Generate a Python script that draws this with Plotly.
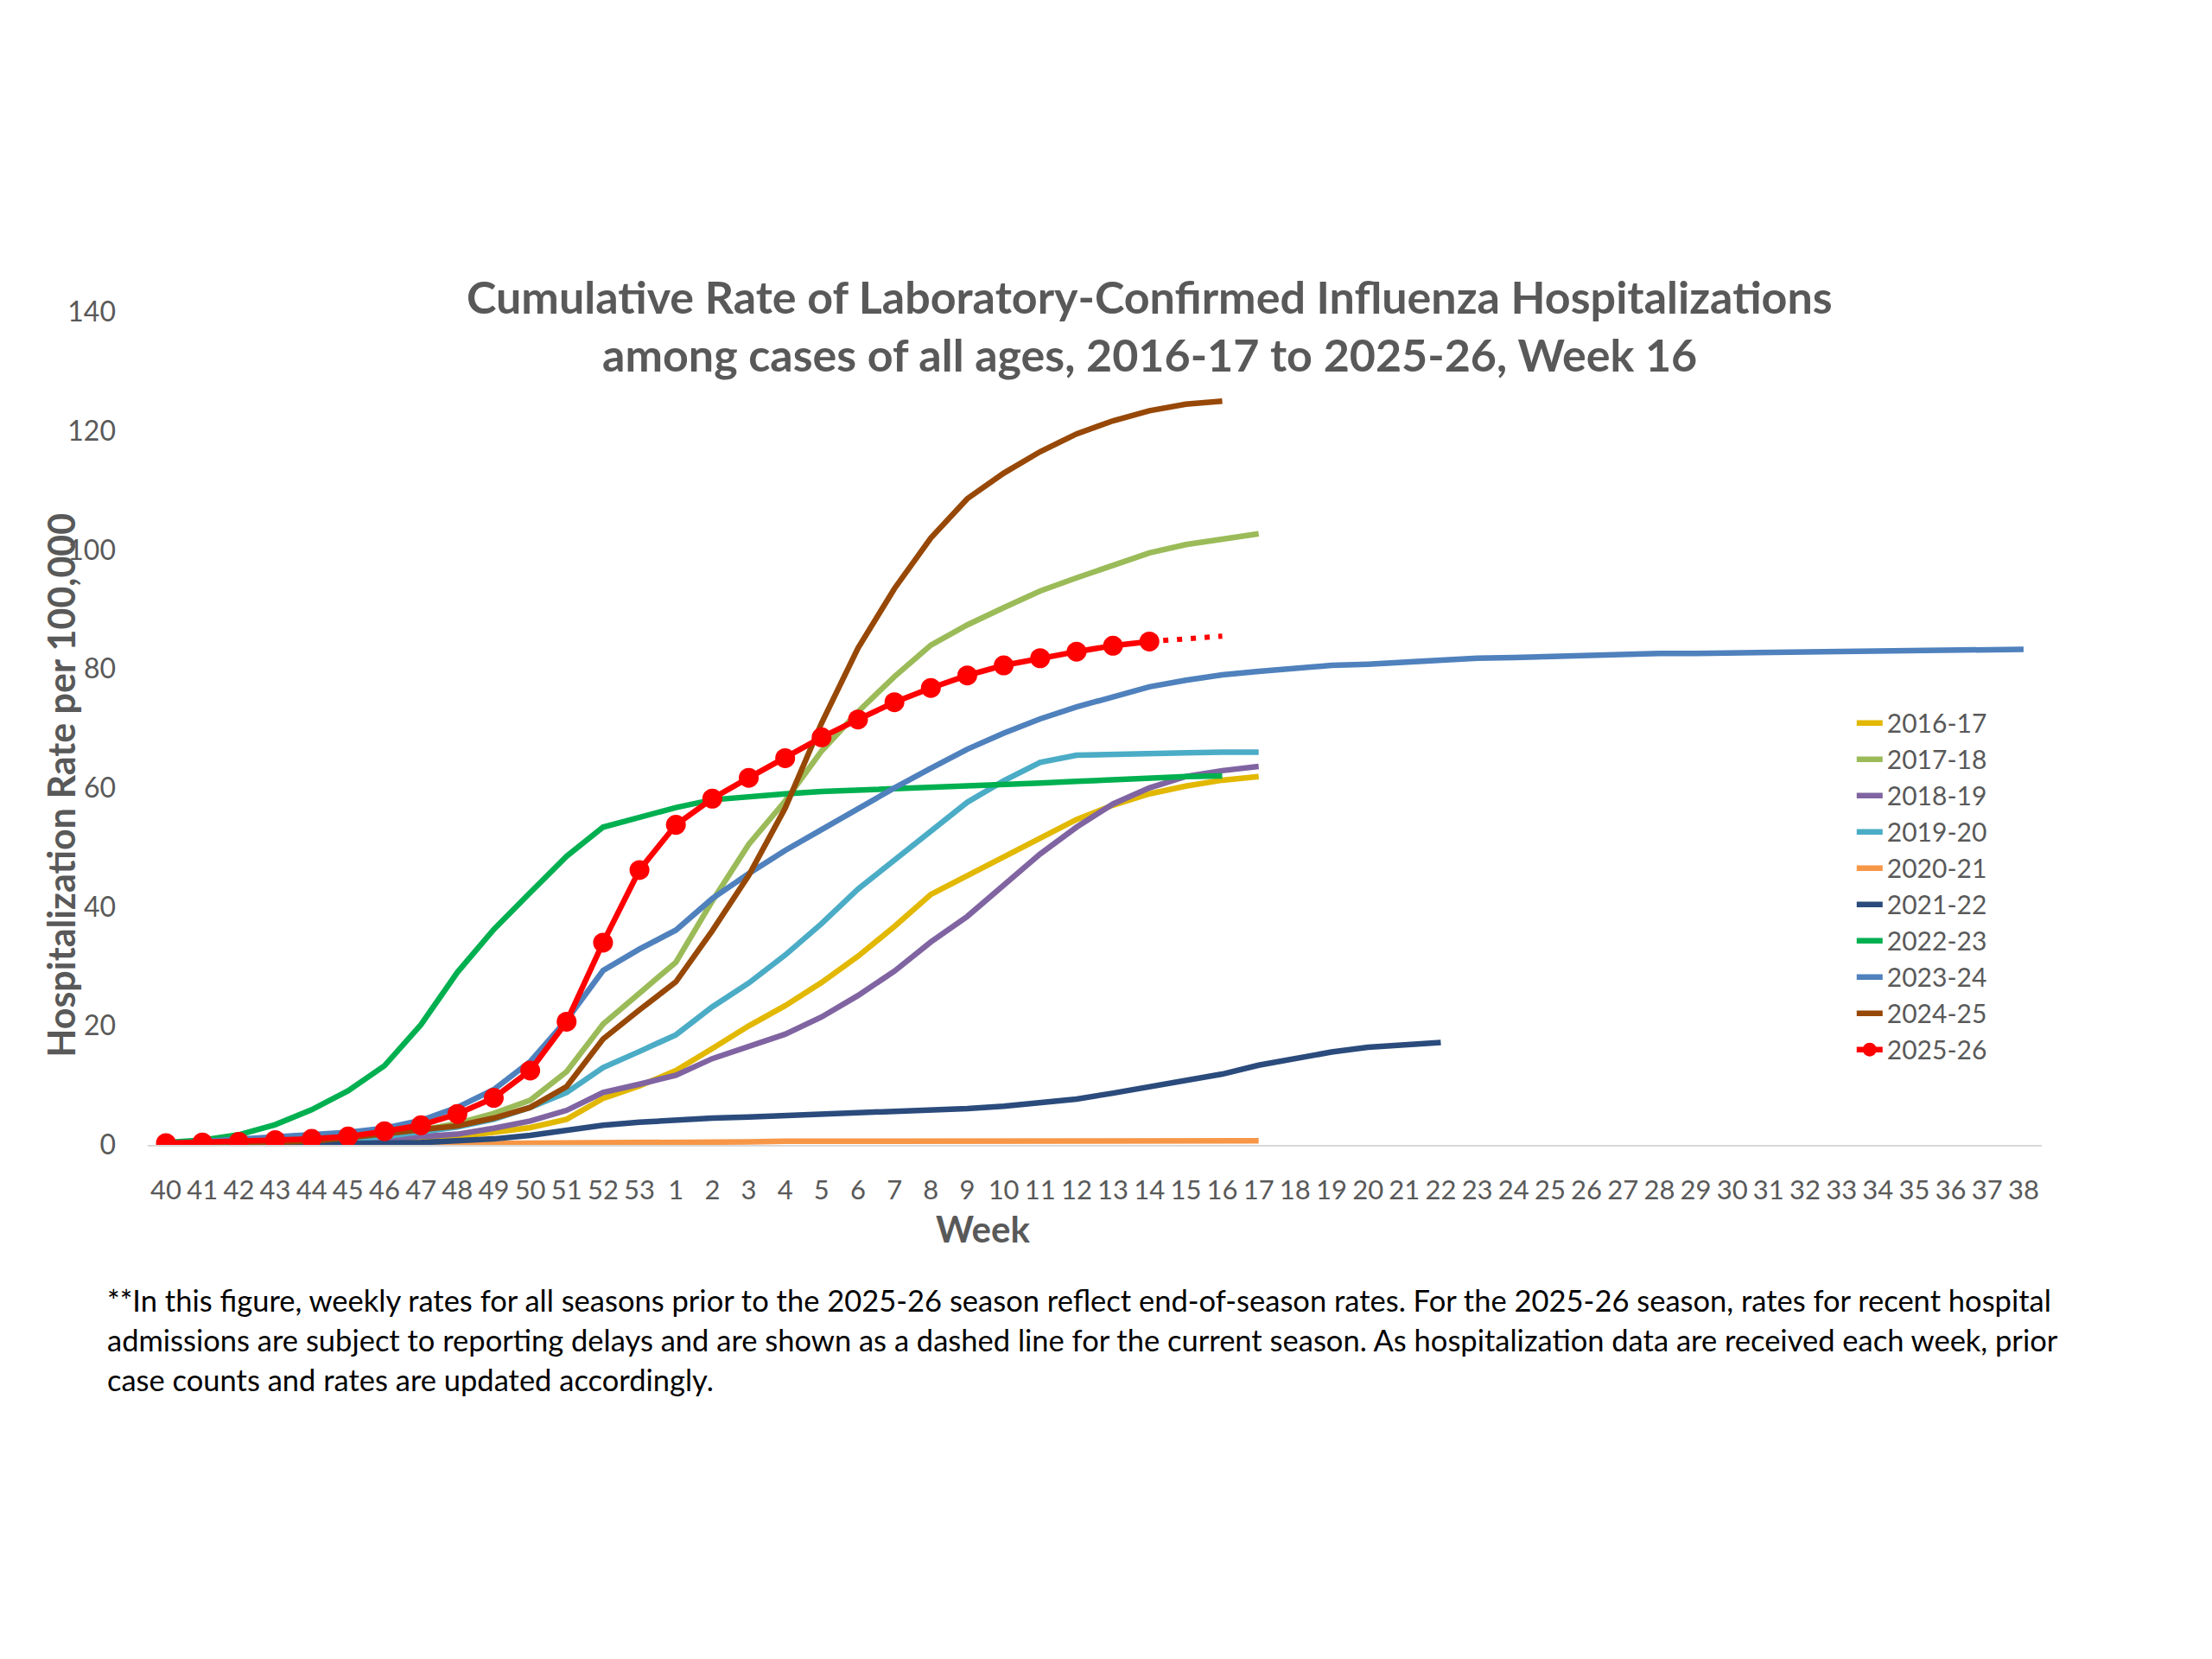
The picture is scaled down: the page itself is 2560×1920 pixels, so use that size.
import plotly.graph_objects as go

# week labels (season runs week 40 -> week 38)
weeks = ["40", "41", "42", "43", "44", "45", "46", "47", "48", "49", "50", "51", "52", "53",
         "1", "2", "3", "4", "5", "6", "7", "8", "9", "10", "11", "12", "13", "14", "15", "16",
         "17", "18", "19", "20", "21", "22", "23", "24", "25", "26", "27", "28", "29", "30",
         "31", "32", "33", "34", "35", "36", "37", "38"]

seasons = ["2016-17", "2017-18", "2018-19", "2019-20", "2020-21",
           "2021-22", "2022-23", "2023-24", "2024-25", "2025-26"]

rate_2016_17 = [0.1, 0.1, 0.2, 0.3, 0.4, 0.5, 0.7, 1.0, 1.4, 2.1, 2.9, 4.3, 7.8, 9.9,
                12.5, 16.2, 20.0, 23.4, 27.3, 31.7, 36.7, 42.1, 45.2, 48.4, 51.5, 54.7,
                57.1, 59.0, 60.3, 61.3, 61.9]
rate_2017_18 = [0.2, 0.3, 0.5, 0.7, 0.9, 1.2, 1.7, 2.5, 3.6, 5.3, 7.5, 12.3, 20.3, 25.5,
                30.7, 41.0, 50.5, 57.8, 66.2, 72.8, 78.7, 84.0, 87.4, 90.3, 93.1, 95.3,
                97.5, 99.5, 100.9, 101.9, 102.7]
rate_2018_19 = [0.1, 0.2, 0.3, 0.4, 0.5, 0.7, 1.0, 1.4, 1.8, 2.8, 4.0, 5.8, 8.8, 10.2,
                11.7, 14.5, 16.6, 18.6, 21.5, 25.1, 29.2, 34.1, 38.4, 43.5, 48.9, 53.4,
                57.3, 60.0, 61.9, 62.9, 63.6]
rate_2019_20 = [0.1, 0.2, 0.3, 0.4, 0.6, 0.9, 1.4, 2.2, 3.0, 4.3, 6.3, 8.8, 13.0, 15.7,
                18.5, 23.2, 27.2, 31.9, 37.2, 43.0, 47.9, 53.0, 57.6, 61.2, 64.3, 65.5,
                65.7, 65.9, 65.9, 66.0, 66.0]
rate_2020_21 = [0.0, 0.0, 0.0, 0.1, 0.1, 0.1, 0.1, 0.2, 0.2, 0.2, 0.3, 0.3, 0.4, 0.4,
                0.4, 0.5, 0.5, 0.6, 0.6, 0.6, 0.6, 0.6, 0.6, 0.6, 0.6, 0.6,
                0.7, 0.7, 0.7, 0.7, 0.7]
rate_2021_22 = [0.1, 0.1, 0.1, 0.2, 0.2, 0.3, 0.3, 0.4, 0.6, 1.0, 1.6, 2.4, 3.3, 3.8,
                4.2, 4.5, 4.7, 4.9, 5.1, 5.3, 5.5, 5.8, 6.1, 6.5, 7.1, 7.7,
                8.7, 9.8, 10.8, 11.9, 13.4, 14.6, 15.6, 16.4, 16.9, 17.2]
rate_2022_23 = [0.4, 0.8, 1.7, 3.4, 5.9, 9.1, 13.3, 20.2, 29.0, 36.2, 42.4, 48.5, 53.4, 55.0,
                56.7, 58.0, 58.6, 59.0, 59.4, 59.6, 59.9, 60.1, 60.3, 60.6, 60.8, 61.1,
                61.4, 61.7, 61.9, 62.0]
rate_2023_24 = [0.2, 0.6, 1.0, 1.3, 1.6, 2.1, 2.8, 4.1, 6.3, 9.3, 14.0, 21.0, 29.3, 32.9,
                36.1, 41.4, 45.6, 49.5, 53.0, 56.6, 60.0, 63.3, 66.5, 69.2, 71.6, 73.6,
                75.4, 77.0, 78.1, 79.0, 79.6, 80.1, 80.6, 80.8, 81.2, 81.5, 81.8, 81.9,
                82.1, 82.2, 82.4, 82.6, 82.6, 82.7, 82.7, 82.9, 82.9, 83.0, 83.1, 83.2,
                83.3, 83.3]
rate_2024_25 = [0.1, 0.2, 0.3, 0.4, 0.6, 1.2, 1.8, 2.5, 3.2, 4.5, 6.3, 9.8, 17.8, 22.7,
                27.4, 36.0, 45.3, 56.6, 70.9, 83.5, 93.5, 102.0, 108.6, 112.9, 116.5, 119.5,
                121.7, 123.4, 124.5, 125.0]
rate_2025_26 = [0.3, 0.4, 0.5, 0.8, 1.0, 1.4, 2.3, 3.3, 5.2, 7.9, 12.5, 20.7, 34.0, 46.2,
                53.8, 58.2, 61.7, 65.0, 68.5, 71.5, 74.4, 76.8, 78.9, 80.6, 81.8, 82.9,
                83.9, 84.6]
# weeks 15-16 of the current season, subject to reporting delays (dotted)
rate_2025_26_prelim = [85.1, 85.5]

series = [rate_2016_17, rate_2017_18, rate_2018_19, rate_2019_20, rate_2020_21,
          rate_2021_22, rate_2022_23, rate_2023_24, rate_2024_25, rate_2025_26]
colors = ["#E2B800", "#9BBB59", "#8064A2", "#4BACC6", "#F79646",
          "#2A4B7C", "#00B050", "#4F81BD", "#974806", "#FF0000"]

title_lines = ["Cumulative Rate of Laboratory-Confirmed Influenza Hospitalizations",
               "among cases of all ages, 2016-17 to 2025-26, Week 16"]
footnote_lines = [
    "**In this figure, weekly rates for all seasons prior to the 2025-26 season reflect end-of-season rates. For the 2025-26 season, rates for recent hospital",
    "admissions are subject to reporting delays and are shown as a dashed line for the current season. As hospitalization data are received each week, prior",
    "case counts and rates are updated accordingly.",
]

FONT = "Lato"
GREY = "#595959"

fig = go.Figure()

for name, vals, col in zip(seasons, series, colors):
    if name == "2025-26":
        continue
    fig.add_trace(go.Scatter(x=weeks[:len(vals)], y=vals, name=name, mode="lines",
                             line=dict(color=col, width=6.5)))

# current season: dotted tail first so the solid part sits on top
n = len(rate_2025_26)
fig.add_trace(go.Scatter(x=weeks[n - 1:n + len(rate_2025_26_prelim)],
                         y=[rate_2025_26[-1]] + rate_2025_26_prelim,
                         mode="lines", showlegend=False, hoverinfo="skip",
                         line=dict(color="#FF0000", width=6, dash="6px,10px")))
fig.add_trace(go.Scatter(x=weeks[:n], y=rate_2025_26, name="2025-26", mode="lines+markers",
                         line=dict(color="#FF0000", width=6.5),
                         marker=dict(color="#FF0000", size=23)))

fig.update_layout(
    width=2560, height=1920,
    margin=dict(l=163, r=205, t=353, b=603),
    paper_bgcolor="white", plot_bgcolor="white",
    font=dict(family=FONT, color=GREY, size=32),
    legend=dict(x=0.900, y=0.5335, xanchor="left", yanchor="top",
                font=dict(size=30, color=GREY), itemwidth=30,
                bgcolor="rgba(0,0,0,0)", tracegroupgap=0),
    xaxis=dict(type="category", categoryorder="array", categoryarray=weeks,
               range=[-0.5, len(weeks) - 0.5], autorange=False,
               tickangle=0, showgrid=False, zeroline=False,
               showline=True, linecolor="#D9D9D9", linewidth=2,
               ticks="", ticklabelstandoff=24,
               tickfont=dict(size=31, color=GREY)),
    yaxis=dict(range=[0, 140], dtick=20, showgrid=False, zeroline=False,
               showline=False, ticks="", ticklabelstandoff=36,
               tickfont=dict(size=32, color=GREY)),
    showlegend=True,
)

# title lines
for txt, yy in zip(title_lines, [1.0187, 0.949]):
    fig.add_annotation(text="<b>" + txt + "</b>", xref="paper", yref="paper",
                       x=0.529, y=yy, xanchor="center", yanchor="middle",
                       showarrow=False, font=dict(size=52, color=GREY, family=FONT))

# axis titles
fig.add_annotation(text="<b>Hospitalization Rate per 100,000</b>", xref="paper", yref="paper",
                   x=-0.046, y=0.432, textangle=-90, xanchor="center", yanchor="middle",
                   showarrow=False, font=dict(size=43, color=GREY, family=FONT))
fig.add_annotation(text="<b>Week</b>", xref="paper", yref="paper",
                   x=0.441, y=-0.101, xanchor="center", yanchor="middle",
                   showarrow=False, font=dict(size=42, color=GREY, family=FONT))

# footnote
for i, txt in enumerate(footnote_lines):
    fig.add_annotation(text=txt, xref="paper", yref="paper",
                       x=-0.0224, y=-0.186 - i * 0.0477, xanchor="left", yanchor="middle",
                       showarrow=False, align="left",
                       font=dict(size=34.5, color="black", family=FONT))

fig.write_html("out.html")
